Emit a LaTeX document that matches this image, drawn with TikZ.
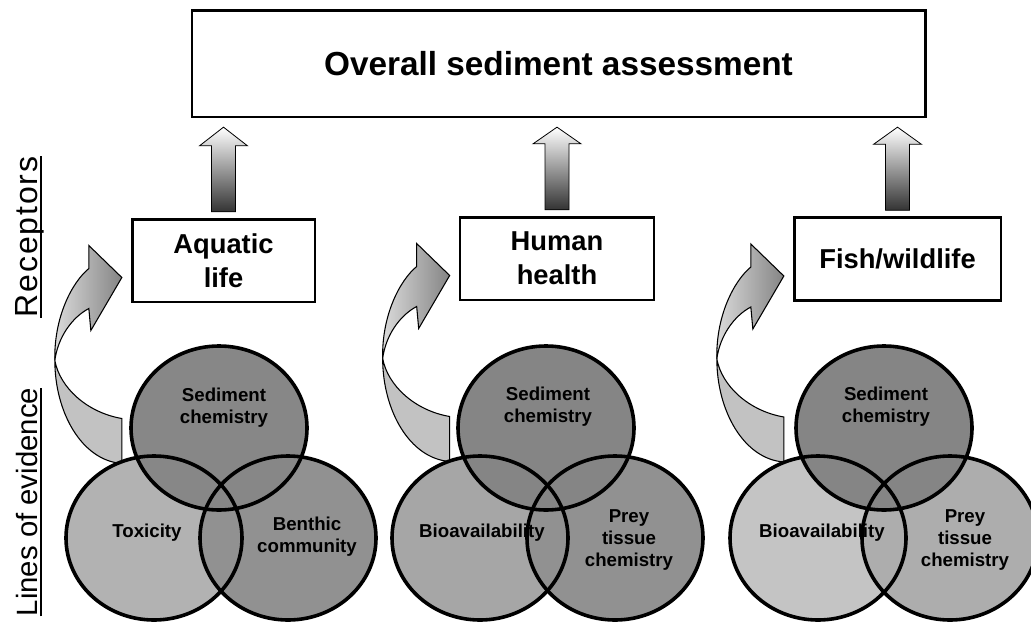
\documentclass[tikz,border=0pt]{standalone}
\usepackage{fontspec}
\setmainfont{Liberation Sans}
\usetikzlibrary{calc,positioning}

\begin{document}
\begin{tikzpicture}[
    x=0.75pt, y=-0.75pt,
    topbox/.style   = {rectangle, draw=black, line width=2pt, fill=white,
                       minimum width=550pt, minimum height=80pt,
                       font=\fontsize{25}{29}\selectfont\bfseries},
    recbox/.style   = {rectangle, draw=black, line width=2pt, fill=white,
                       minimum height=62pt, align=center,
                       font=\fontsize{20.5}{25.5}\selectfont\bfseries},
    sidelabel/.style= {rotate=90, anchor=base, inner sep=0pt,
                       font=\fontsize{22}{26}\selectfont},
    lbl/.style      = {align=center, inner sep=1pt,
                       font=\fontsize{14}{16.5}\selectfont\bfseries},
    uparrow/.style  = {draw=black, line width=0.6pt, top color=white,
                       middle color=black!30, bottom color=black!80},
    bandlow/.style  = {draw=black, line width=0.8pt, fill=black!24},
    bandup/.style   = {draw=black, line width=0.8pt, left color=black!14,
                       right color=black!48},
    venn/.style     = {x radius=66pt, y radius=61.5pt},
    vennline/.style = {draw=black, line width=2.7pt}
]
\useasboundingbox (0,0) rectangle (1031,621);

% Overall assessment
\node[topbox] (over) at (558.5,63.5) {Overall sediment assessment};

% Receptors
\node[recbox, minimum width=137pt]   (aqua)  at (223.5,260.5) {Aquatic\\life};
\node[recbox, minimum width=145.5pt] (human) at (557,258.5)   {Human\\health};
\node[recbox, minimum width=155pt]   (fish)  at (897.5,259)   {Fish/wildlife};

% Side labels
\node[sidelabel, font=\fontsize{24}{28}\selectfont] (rec) at (37,237)
     {\addfontfeature{LetterSpace=6}Receptors};
\node[sidelabel] (loe) at (37,502) {Lines of evidence};
\draw[line width=1.5pt] ($(rec.base west)+(4,0)$) -- ($(rec.base east)+(4,0)$);
\draw[line width=1.5pt] ($(loe.base west)+(4,0)$) -- ($(loe.base east)+(4,0)$);

% Block arrows up to the overall box
\foreach \r in {aqua,human,fish} {
  \shade[uparrow] ($(\r.north)+(-12,-6)$) -- ++(0,-66) -- ++(-12,0)
      -- ($(\r.north |- over.south)+(0,9)$) -- ($(\r.north)+(24,-72)$)
      -- ++(-12,0) -- ($(\r.north)+(12,-6)$) -- cycle;
}

% Curved arrows from the evidence to the receptors
\foreach \r in {aqua,human,fish} {
  \begin{scope}[shift={($(\r.west)+(-9,17)$)}]
    \path[bandlow] (-67,83) .. controls (-67,135) and (-40,183) .. (0,186)
        -- (0,141) .. controls (-35,135) and (-62,110) .. (-67,83) -- cycle;
    \shade[bandup] (-67,83) .. controls (-68,40) and (-50,5) .. (-33,-9)
        -- (-33,-32) -- (0,0) -- (-31,53) -- (-33,31)
        .. controls (-50,40) and (-64,60) .. (-67,83) -- cycle;
  \end{scope}
}

% Circle centres
\coordinate (aqsed)  at (219,428);
\coordinate (aqtox)  at (154,538);
\coordinate (aqben)  at (288,538);
\coordinate (hhsed)  at (546,428);
\coordinate (hhbio)  at (480,538);
\coordinate (hhprey) at (615,538);
\coordinate (fwsed)  at (884,428);
\coordinate (fwbio)  at (818,538);
\coordinate (fwprey) at (950,538);

% Fills
\fill[black!30] (aqtox)  ellipse [venn];
\fill[black!43] (aqben)  ellipse [venn];
\fill[black!47] (aqsed)  ellipse [venn];
\fill[black!35] (hhbio)  ellipse [venn];
\fill[black!43] (hhprey) ellipse [venn];
\fill[black!48] (hhsed)  ellipse [venn];
\fill[black!23] (fwbio)  ellipse [venn];
\fill[black!32] (fwprey) ellipse [venn];
\fill[black!48] (fwsed)  ellipse [venn];

% Lines of evidence
\node[lbl] (aqsedt)  at (224,408) {Sediment\\chemistry};
\node[lbl] (aqtoxt)  at (147,533) {Toxicity};
\node[lbl] (aqbent)  at (307,537) {Benthic\\community};
\node[lbl] (hhsedt)  at (548,407) {Sediment\\chemistry};
\node[lbl] (hhbiot)  at (482,533) {Bioavailability};
\node[lbl] (hhpreyt) at (629,540) {Prey\\tissue\\chemistry};
\node[lbl] (fwsedt)  at (886,407) {Sediment\\chemistry};
\node[lbl] (fwbiot)  at (822,533) {Bioavailability};
\node[lbl] (fwpreyt) at (965,540) {Prey\\tissue\\chemistry};

% Outlines
\foreach \c in {aqtox,aqben,aqsed,hhbio,hhprey,hhsed,fwbio,fwprey,fwsed}
  \draw[vennline] (\c) ellipse [venn];

\end{tikzpicture}
\end{document}
